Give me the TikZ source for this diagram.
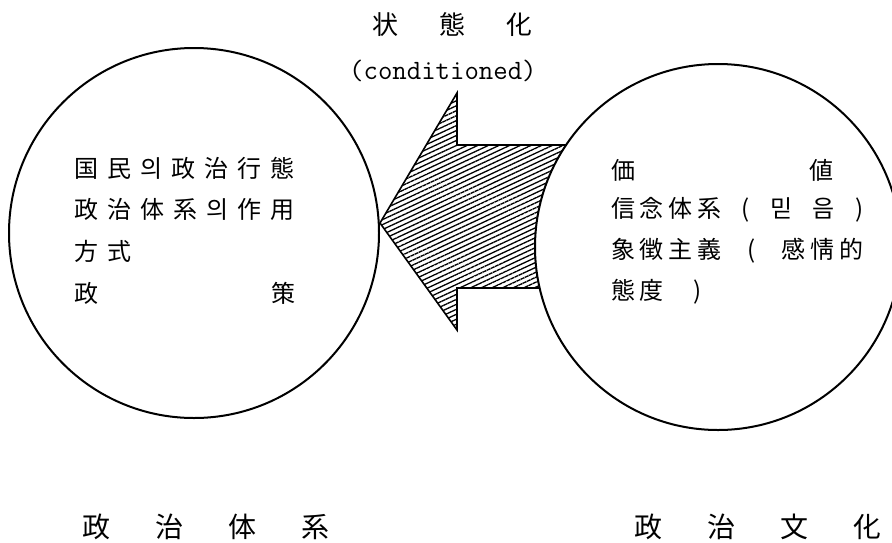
\documentclass[tikz,border=0pt]{standalone}
\usepackage{fontspec}
\newfontfamily\cjk{Noto Sans CJK KR}
\usetikzlibrary{patterns.meta}

\begin{document}
\begin{tikzpicture}[
    x=1pt, y=-1pt,
    ring/.style={circle,draw=black,line width=2pt,inner sep=0pt},
    flow/.style={draw=black,line width=1.6pt,pattern={Lines[angle=25,distance=4.5pt,line width=1.3pt]}},
    lefttxt/.style={anchor=west,inner sep=0pt,font={\cjk\fontsize{24}{24}\selectfont\addfontfeature{LetterSpace=37.5}}},
    righttxt/.style={anchor=west,inner sep=0pt,font={\cjk\fontsize{24}{24}\selectfont\addfontfeature{LetterSpace=20}}},
    title/.style={anchor=west,inner sep=0pt,font={\cjk\fontsize{26}{26}\selectfont\addfontfeature{LetterSpace=158}}},
    caption/.style={anchor=west,inner sep=0pt,font={\cjk\fontsize{28}{28}\selectfont\addfontfeature{LetterSpace=161}}},
    ]
    \useasboundingbox (0,0) rectangle (892,542);
    % hatched arrow, its end hidden under the culture circle
    \draw[flow] (380,223) -- (457,93) -- (457,145) -- (590,145)
        -- (590,288) -- (457,288) -- (457,330) -- cycle;
    \node[ring,fill=white,minimum size=366pt] (cult) at (718,247) {};
    \node[ring,minimum size=370pt] (sys) at (194,233) {};
    % top
    \node[title] (cond) at (372,25) {状態化};
    \node[anchor=west,inner sep=0pt,font={\ttfamily\fontsize{28}{28}\selectfont\addfontfeature{LetterSpace=13.6}}] (eng) at (349,71) {(conditioned)};
    % political system
    \node[lefttxt] (s1) at (74,168) {国民의政治行態};
    \node[lefttxt] (s2) at (74,209) {政治体系의作用};
    \node[lefttxt] (s3) at (74,251) {方式};
    \node[lefttxt] (s4) at (74,293) {\makebox[221pt][s]{政 策}};
    % political culture
    \node[righttxt] (c1) at (611,170) {\makebox[222pt][s]{価 値}};
    \node[righttxt] (c2) at (611,210) {\makebox[252pt][s]{信念体系 ( 믿 음 )}};
    \node[righttxt] (c3) at (611,251) {\makebox[252pt][s]{象徴主義 ( 感情的}};
    \node[righttxt] (c4) at (611,292) {\makebox[90pt][s]{態度 )}};
    % captions
    \node[caption] (capsys) at (82,527) {政治体系};
    \node[caption] (capcult) at (634,527) {政治文化};
\end{tikzpicture}
\end{document}
